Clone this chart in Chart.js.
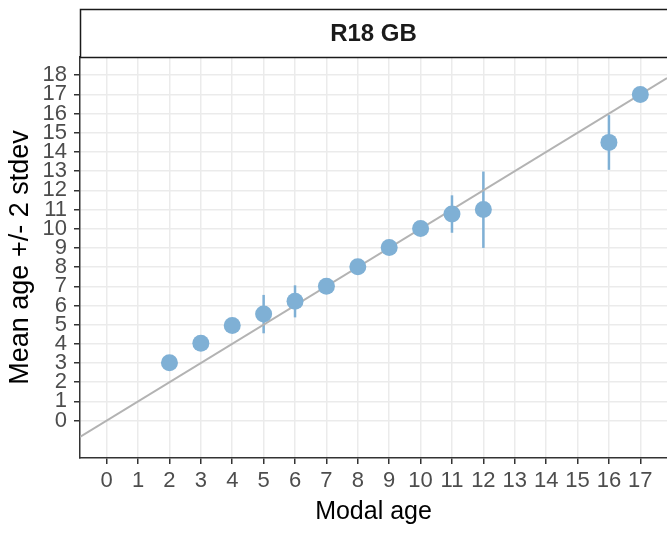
<!DOCTYPE html>
<html>
<head>
<meta charset="utf-8">
<script src="https://cdn.jsdelivr.net/npm/chart.js@4"></script>
<style>
  body { margin: 0; background: #fff; }
  #wrap { width: 667px; height: 533px; }
</style>
</head>
<body>
<div id="wrap"><canvas id="ageChart" width="667" height="533"></canvas></div>
<script>
// values
const modalAge = [2, 3, 4, 5, 6, 7, 8, 9, 10, 11, 12, 16, 17]
const meanAge  = [3.02, 4.03, 4.96, 5.55, 6.22, 7.0, 8.02, 9.02, 10.01, 10.77, 11.0, 14.5, 17.0]
const lowerSd  = [3.02, 4.03, 4.96, 4.55, 5.38, 7.0, 8.02, 9.02, 10.01, 9.79, 9.0, 13.07, 17.0]
const upperSd  = [3.02, 4.03, 4.96, 6.55, 7.05, 7.0, 8.02, 9.02, 10.01, 11.74, 12.98, 15.92, 17.0]

const xTicks = [0, 1, 2, 3, 4, 5, 6, 7, 8, 9, 10, 11, 12, 13, 14, 15, 16, 17]
const yTicks = [0, 1, 2, 3, 4, 5, 6, 7, 8, 9, 10, 11, 12, 13, 14, 15, 16, 17, 18]
const xMin = -0.85, xMax = 17.85
const yMin = -1.95, yMax = 18.95

const stripTitle = 'R18 GB'
const pointColor = '#7fb0d5'

// error bars (+/- 2 stdev)
const errorBars = {
  id: 'errorBars',
  beforeDatasetsDraw(chart) {
    const { ctx, scales: { x, y }, chartArea } = chart
    ctx.save()
    ctx.beginPath()
    ctx.rect(chartArea.left, chartArea.top, chartArea.width, chartArea.height)
    ctx.clip()
    ctx.strokeStyle = pointColor
    ctx.lineWidth = 2.5
    modalAge.forEach((age, i) => {
      const px = x.getPixelForValue(age)
      ctx.beginPath()
      ctx.moveTo(px, y.getPixelForValue(lowerSd[i]))
      ctx.lineTo(px, y.getPixelForValue(upperSd[i]))
      ctx.stroke()
    })
    ctx.restore()
  }
}

// facet strip on top of the panel
const facetStrip = {
  id: 'facetStrip',
  afterDraw(chart) {
    const { ctx, chartArea } = chart
    const top = 9
    ctx.save()
    ctx.fillStyle = '#fff'
    ctx.fillRect(chartArea.left, top, chartArea.width, chartArea.top - top)
    ctx.strokeStyle = '#1a1a1a'
    ctx.lineWidth = 1.5
    ctx.strokeRect(chartArea.left + 0.5, top + 0.5, chartArea.width + 2, chartArea.top - top)
    ctx.fillStyle = '#1a1a1a'
    ctx.font = 'bold 24px "Liberation Sans", Arial, sans-serif'
    ctx.textAlign = 'center'
    ctx.textBaseline = 'middle'
    ctx.fillText(stripTitle, (chartArea.left + chartArea.right) / 2, (top + chartArea.top) / 2 + 1)
    ctx.restore()
  }
}

const tickFont = { family: '"Liberation Sans", Arial, sans-serif', size: 22 }

new Chart(document.getElementById('ageChart'), {
  type: 'scatter',
  data: {
    datasets: [
      {
        label: 'identity',
        type: 'line',
        data: [xMin, xMax].map(v => ({ x: v, y: v })),
        borderColor: '#b3b3b3',
        borderWidth: 2,
        pointRadius: 0,
        order: 2
      },
      {
        label: 'mean age',
        data: modalAge.map((age, i) => ({ x: age, y: meanAge[i] })),
        backgroundColor: pointColor,
        borderWidth: 0,
        pointRadius: 8.5,
        order: 1
      }
    ]
  },
  options: {
    responsive: false,
    animation: false,
    layout: { autoPadding: false, padding: { top: 57, right: 0, left: 0, bottom: 0 } },
    plugins: {
      legend: { display: false },
      tooltip: { enabled: false }
    },
    scales: {
      x: {
        type: 'linear',
        min: xMin,
        max: xMax,
        afterBuildTicks: scale => { scale.ticks = xTicks.map(v => ({ value: v })) },
        afterFit: scale => {
          scale.height = 75
          scale.paddingLeft = 0
          scale.paddingRight = 0
        },
        grid: { color: '#ebebeb', lineWidth: 1.5, tickColor: '#333', tickLength: 6, tickWidth: 1.5 },
        border: { display: true, color: '#333', width: 1.5 },
        ticks: { color: '#4d4d4d', font: tickFont, padding: 4, maxRotation: 0, autoSkip: false },
        title: {
          display: true, text: 'Modal age', color: '#000',
          font: { family: '"Liberation Sans", Arial, sans-serif', size: 25 },
          padding: { top: 0, bottom: 6 }
        }
      },
      y: {
        type: 'linear',
        min: yMin,
        max: yMax,
        afterBuildTicks: scale => { scale.ticks = yTicks.map(v => ({ value: v })) },
        afterFit: scale => {
          scale.width = 80
          scale.paddingTop = 0
          scale.paddingBottom = 0
        },
        grid: { color: '#ebebeb', lineWidth: 1.5, tickColor: '#333', tickLength: 6, tickWidth: 1.5 },
        border: { display: true, color: '#333', width: 1.5 },
        ticks: { color: '#4d4d4d', font: tickFont, padding: 7, autoSkip: false },
        title: {
          display: true, text: 'Mean age +/- 2 stdev', color: '#000',
          font: { family: '"Liberation Sans", Arial, sans-serif', size: 27 },
          padding: { top: 4, bottom: 0 }
        }
      }
    }
  },
  plugins: [errorBars, facetStrip]
})
</script>
</body>
</html>
